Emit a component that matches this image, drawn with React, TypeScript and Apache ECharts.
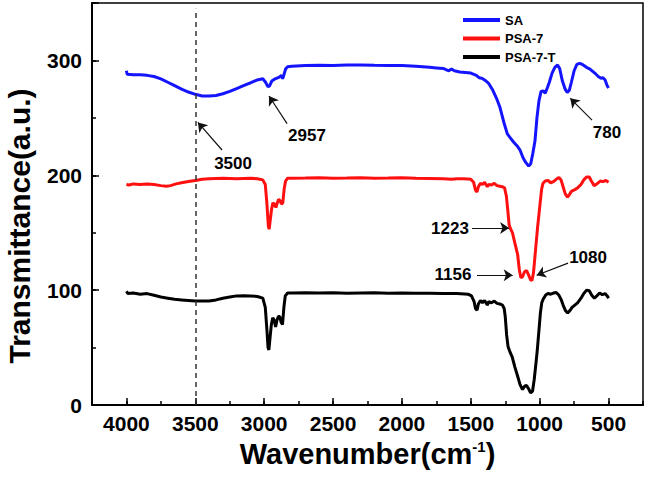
import React, { useEffect, useRef } from "react";
import * as echarts from "echarts";

const seriesNames = ["SA", "PSA-7", "PSA-7-T"];
const seriesColors = ["#1414ff", "#ff1010", "#000000"];

const saData: [number, number][] = [
  [4000, 291], [3995, 288], [3950, 287.5], [3900, 287.5], [3850, 287], [3800, 286], [3750, 284],
  [3700, 281], [3650, 278], [3600, 275], [3550, 272.5], [3500, 270.5], [3450, 269], [3400, 269],
  [3350, 269.5], [3300, 271], [3250, 273], [3200, 275.5], [3150, 278], [3100, 280.5], [3050, 283],
  [3010, 284], [2990, 281], [2972, 277], [2960, 278], [2945, 282], [2920, 284], [2890, 285.5],
  [2875, 287], [2866, 284], [2858, 287], [2845, 292.5], [2830, 294.5], [2800, 295], [2700, 295.5],
  [2600, 295.8], [2500, 295.6], [2400, 296], [2300, 296], [2200, 295.7], [2100, 295.6], [2000, 295.5],
  [1900, 295], [1800, 294], [1750, 293.5], [1700, 293], [1660, 291], [1640, 292.5], [1620, 291],
  [1580, 290], [1540, 289.5], [1500, 289], [1460, 287], [1440, 285], [1420, 284.5], [1400, 283],
  [1370, 280], [1340, 274], [1310, 266], [1288, 259], [1260, 246], [1235, 236], [1216, 233],
  [1190, 229], [1160, 225], [1143, 222], [1120, 215], [1100, 211], [1080, 208], [1065, 210],
  [1050, 219], [1034, 230], [1020, 250], [1005, 265], [990, 273], [975, 273.5], [960, 271.5],
  [945, 276], [930, 281], [910, 289], [890, 294], [870, 296], [855, 293], [835, 282], [815, 275],
  [800, 272], [785, 274], [770, 281], [750, 291], [730, 296.5], [710, 297.5], [690, 296.5],
  [660, 294], [635, 292.5], [600, 289], [575, 286], [555, 284.5], [540, 285], [525, 283],
  [510, 278], [500, 276],
];

const psa7Data: [number, number][] = [
  [4000, 192], [3980, 191.5], [3950, 192.5], [3900, 192], [3850, 192.5], [3800, 192], [3750, 191],
  [3710, 190.5], [3680, 191], [3640, 192.5], [3600, 193.5], [3550, 194.5], [3500, 195.5],
  [3450, 196.5], [3400, 197], [3300, 197.5], [3200, 197], [3100, 197.5], [3050, 197], [3010, 196],
  [2992, 192], [2980, 175], [2970, 156], [2964, 153], [2957, 160], [2947, 170], [2937, 176],
  [2927, 175], [2915, 172], [2905, 176], [2895, 179], [2885, 178], [2875, 175], [2865, 176],
  [2855, 188], [2845, 195], [2830, 197.5], [2800, 197.5], [2700, 197.6], [2600, 197.8],
  [2500, 197.5], [2400, 197.6], [2300, 197.8], [2200, 197.5], [2100, 197.6], [2000, 197.8],
  [1900, 197.5], [1800, 197.3], [1700, 197], [1640, 196.5], [1600, 197], [1550, 197], [1500, 196.5],
  [1480, 194], [1466, 187], [1455, 185.5], [1445, 190], [1430, 193], [1415, 192], [1400, 194],
  [1380, 190], [1370, 192], [1350, 191.5], [1330, 193], [1310, 191], [1290, 190.5], [1270, 190],
  [1255, 189], [1242, 182], [1232, 170], [1222, 157], [1214, 154], [1198, 150], [1180, 141],
  [1160, 131], [1148, 118], [1137, 111], [1125, 111.5], [1110, 116], [1095, 117], [1080, 113],
  [1066, 109], [1056, 108.5], [1045, 115], [1030, 135], [1015, 155], [1000, 172], [986, 188],
  [976, 193], [960, 195], [940, 195.5], [920, 193.5], [900, 194.5], [880, 196.5], [860, 198],
  [845, 196], [830, 190], [815, 184], [798, 181], [785, 183], [770, 186], [745, 187.5], [725, 189],
  [700, 192], [680, 196], [660, 198.5], [640, 198.5], [625, 195], [605, 191], [585, 192.5],
  [560, 195], [540, 194.5], [520, 195.5], [500, 194],
];

const psa7tData: [number, number][] = [
  [4000, 99], [3990, 97], [3950, 97.5], [3900, 96.5], [3850, 97], [3800, 95.5], [3750, 94],
  [3700, 93], [3650, 92], [3600, 91.5], [3550, 91], [3500, 90.5], [3450, 90.5], [3400, 90.5],
  [3350, 91.5], [3300, 93], [3250, 94], [3200, 95], [3150, 95.2], [3100, 95], [3050, 94.5],
  [3010, 93], [2992, 85], [2980, 65], [2972, 50], [2966, 48], [2958, 58], [2948, 70], [2938, 76],
  [2928, 74], [2917, 68], [2907, 74], [2897, 77], [2887, 77], [2877, 72], [2867, 70], [2857, 85],
  [2847, 95], [2830, 97.5], [2800, 97.5], [2700, 97.8], [2600, 97.5], [2500, 97.7], [2400, 97.4],
  [2300, 97.6], [2200, 97.8], [2100, 97.4], [2000, 97.5], [1900, 97.3], [1800, 97.2], [1700, 97],
  [1600, 97], [1520, 96.5], [1495, 95], [1476, 90], [1466, 84], [1455, 82.5], [1445, 88],
  [1430, 91], [1415, 89], [1400, 91], [1380, 87], [1370, 90], [1350, 89], [1330, 90.5], [1310, 88.5],
  [1290, 88], [1270, 87], [1258, 84], [1250, 77], [1240, 61], [1230, 51], [1215, 46], [1200, 42],
  [1180, 33], [1160, 25], [1143, 18], [1125, 13.5], [1108, 16.5], [1095, 17], [1080, 14],
  [1066, 10.5], [1052, 12], [1040, 22], [1030, 33], [1018, 47], [1006, 64], [995, 80], [985, 89],
  [975, 92], [955, 96], [940, 97], [920, 96.5], [900, 97.5], [880, 98], [860, 95.5], [845, 92],
  [830, 87], [812, 82], [797, 80], [782, 82], [765, 85], [745, 87], [725, 89], [700, 93],
  [680, 97], [660, 100], [640, 99.5], [622, 95.5], [603, 93], [585, 95], [565, 97.5], [545, 96],
  [525, 97], [510, 95], [500, 93],
];

const xMajorTicks = [4000, 3500, 3000, 2500, 2000, 1500, 1000, 500];
const yLabelTicks = [0, 100, 200, 300];
const dashedAt = 3500;

// annotation arrows: [tail x, tail y, tip x, tip y] in data coordinates
const arrows: [number, number, number, number][] = [
  [3306, 222, 3481, 246],
  [2834, 245, 2965, 269],
  [620, 248, 778, 267],
  [1491, 154, 1222, 154],
  [1455, 113, 1196, 113],
  [794, 123.5, 1022, 113],
];
const arrowTexts: [string, number, number][] = [
  ["3500", 3226, 210],
  ["2957", 2689, 235],
  ["780", 511, 237],
  ["1223", 1651, 154],
  ["1156", 1629, 114],
  ["1080", 649, 128],
];

const FONT = "Liberation Sans, Arial, Helvetica, sans-serif";

export default function App() {
  const ref = useRef<HTMLDivElement>(null);
  useEffect(() => {
    if (!ref.current) return;
    const chart = echarts.init(ref.current, null, { renderer: "svg" });
    const datasets = [saData, psa7Data, psa7tData];
    const series: any[] = datasets.map((d, i) => ({
      name: seriesNames[i],
      type: "line",
      data: d,
      showSymbol: false,
      symbol: "none",
      xAxisIndex: 0,
      yAxisIndex: 0,
      lineStyle: { color: seriesColors[i], width: 3 },
      itemStyle: { color: seriesColors[i] },
      z: 3 - i,
    }));
    series[0].markLine = {
      silent: true,
      animation: false,
      symbol: ["none", "arrow"],
      symbolSize: 9,
      label: { show: false },
      lineStyle: { color: "#111", width: 1.2, type: "solid" },
      data: [
        [
          { xAxis: dashedAt, yAxis: 0, symbol: "none", lineStyle: { color: "#333", width: 1.5, type: [5, 4] } },
          { xAxis: dashedAt, yAxis: 345, symbol: "none" },
        ],
        ...arrows.map((a) => [
          { coord: [a[0], a[1]] },
          { coord: [a[2], a[3]] },
        ]),
      ],
    };
    series[0].markPoint = {
      silent: true,
      animation: false,
      symbol: "rect",
      symbolSize: 1,
      itemStyle: { color: "rgba(0,0,0,0)" },
      label: {
        show: true,
        position: "inside",
        formatter: "{b}",
        color: "#000",
        fontSize: 17,
        fontWeight: "bold",
        fontFamily: FONT,
      },
      data: arrowTexts.map((t) => ({ name: t[0], coord: [t[1], t[2]] })),
    };

    chart.setOption({
      animation: false,
      backgroundColor: "#fff",
      grid: {
        left: 92,
        right: 5,
        top: 3,
        bottom: 72,
        show: true,
        borderColor: "#000",
        borderWidth: 1.5,
        backgroundColor: "transparent",
        containLabel: false,
        outerBoundsMode: "none",
      },
      legend: {
        orient: "vertical",
        left: 458,
        top: 8,
        itemWidth: 37,
        itemHeight: 4,
        itemGap: 4.5,
        icon: "rect",
        data: seriesNames,
        textStyle: { fontSize: 13, fontWeight: "bold", color: "#000", fontFamily: FONT, lineHeight: 14 },
      },
      xAxis: [
        {
          type: "value",
          position: "bottom",
          inverse: true,
          min: 250,
          max: 4250,
          name: "Wavenumber(cm{sup|-1})",
          nameLocation: "middle",
          nameGap: 34,
          nameTextStyle: {
            fontSize: 29,
            fontWeight: "bold",
            color: "#000",
            fontFamily: FONT,
            rich: { sup: { fontSize: 15, fontWeight: "bold", color: "#000", fontFamily: FONT, verticalAlign: "top" } },
          },
          axisLine: { show: true, lineStyle: { color: "#000", width: 2 } },
          axisTick: { show: true, inside: true, length: 7, customValues: xMajorTicks, lineStyle: { color: "#000", width: 1.5 } },
          axisLabel: {
            customValues: xMajorTicks,
            formatter: (v: number) => String(v),
            fontSize: 21,
            fontWeight: "bold",
            color: "#000",
            fontFamily: FONT,
            margin: 8,
          },
          splitLine: { show: false },
        },
        {
          type: "value",
          position: "bottom",
          inverse: true,
          min: 250,
          max: 4250,
          interval: 250,
          axisLine: { show: false },
          axisTick: { show: true, inside: true, length: 4, lineStyle: { color: "#000", width: 1.5 } },
          axisLabel: { show: false },
          splitLine: { show: false },
        },
      ],
      yAxis: [
        {
          type: "value",
          position: "left",
          min: 0,
          max: 350,
          interval: 100,
          name: "Transmittance(a.u.)",
          nameLocation: "middle",
          nameGap: 58,
          nameTextStyle: { fontSize: 30, fontWeight: "bold", color: "#000", fontFamily: FONT, padding: [0, 44, 0, 0] },
          axisLine: { show: true, lineStyle: { color: "#000", width: 2 } },
          axisTick: { show: true, inside: true, length: 7, lineStyle: { color: "#000", width: 1.5 } },
          axisLabel: {
            customValues: yLabelTicks,
            formatter: (v: number) => String(v),
            fontSize: 21,
            fontWeight: "bold",
            color: "#000",
            fontFamily: FONT,
            margin: 10,
          },
          splitLine: { show: false },
        },
        {
          type: "value",
          position: "left",
          min: 0,
          max: 350,
          interval: 50,
          axisLine: { show: false },
          axisTick: { show: true, inside: true, length: 4, lineStyle: { color: "#000", width: 1.5 } },
          axisLabel: { show: false },
          splitLine: { show: false },
        },
      ],
      series,
    });
    return () => chart.dispose();
  }, []);
  return <div ref={ref} style={{ position: "fixed", left: 0, top: 0, width: 648, height: 477 }} />;
}
